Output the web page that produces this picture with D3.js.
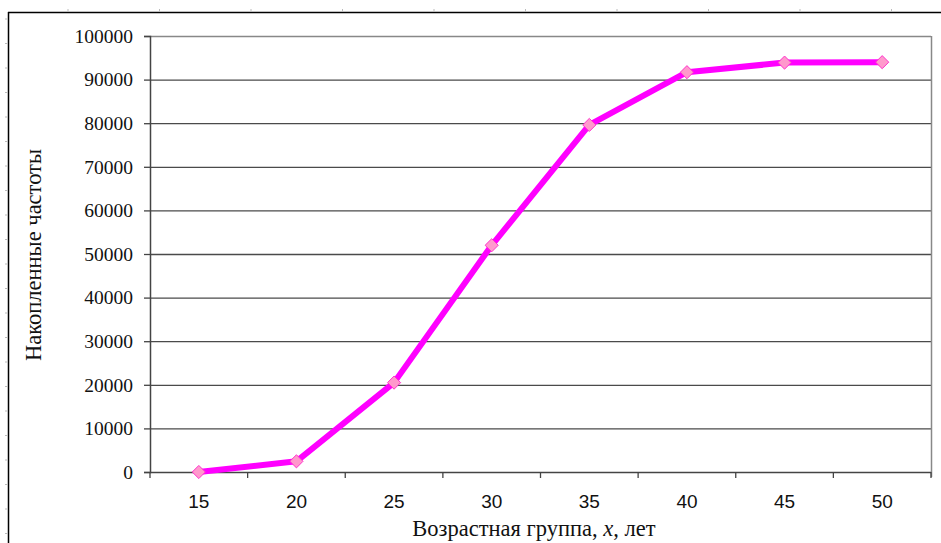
<!DOCTYPE html>
<html><head><meta charset="utf-8">
<script src="https://cdn.jsdelivr.net/npm/d3@7/dist/d3.min.js"></script>
<style>html,body{margin:0;padding:0;background:#fff;}svg{display:block;}</style>
</head><body>
<script>
const categories = ["15","20","25","30","35","40","45","50"];
const values = [0, 2450, 20500, 52000, 79600, 91700, 93900, 94000];
const yTicks = [0,10000,20000,30000,40000,50000,60000,70000,80000,90000,100000];
const xTitle = ["Возрастная группа, ", "x", ", лет"];
const yTitle = "Накопленные частоты";

const W = 941, H = 543;
const m = {left:150, right:10, top:36, bottom:71};
const svg = d3.select("body").append("svg").attr("width",W).attr("height",H);

// page frame
svg.append("line").attr("x1",8).attr("x2",W).attr("y1",12.5).attr("y2",12.5).attr("stroke","#000").attr("stroke-width",1.5);
svg.append("line").attr("x1",8.5).attr("x2",8.5).attr("y1",12).attr("y2",H).attr("stroke","#000").attr("stroke-width",1.5);
for(let k=0;k<10;k++){const xx=68+91.5*k;svg.append("line").attr("x1",xx).attr("x2",xx).attr("y1",9).attr("y2",12).attr("stroke","#bbb");}
for(let k=0;k<22;k++){const yy=19+24.5*k;svg.append("line").attr("x1",5).attr("x2",8).attr("y1",yy).attr("y2",yy).attr("stroke","#bbb");}

const x = d3.scaleBand().domain(categories).range([m.left, W-m.right]).padding(0);
const y = d3.scaleLinear().domain([0,100000]).range([H-m.bottom, m.top]);

// gridlines
svg.append("g").selectAll("line").data(yTicks.filter(d=>d>0)).join("line")
  .attr("x1",m.left).attr("x2",W-m.right).attr("y1",d=>y(d)+0.5).attr("y2",d=>y(d)+0.5)
  .attr("stroke",d=>d===100000?"#888":"#4a4a4a").attr("stroke-width",1.3);
// right border
svg.append("line").attr("x1",W-m.right+0.5).attr("x2",W-m.right+0.5).attr("y1",m.top).attr("y2",H-m.bottom+5)
  .attr("stroke","#888").attr("stroke-width",1.5);

// y axis
const yAxis = d3.axisLeft(y).tickValues(yTicks).tickSize(6).tickPadding(11).tickFormat(d3.format("d"));
const gy = svg.append("g").attr("transform",`translate(${m.left},0)`).call(yAxis);
gy.select(".domain").attr("stroke","#444").attr("stroke-width",1.5);
gy.selectAll(".tick line").attr("stroke","#444").attr("stroke-width",1.3);
gy.selectAll(".tick text").attr("font-family","'Liberation Serif','Times New Roman',serif").attr("font-size",19.5).attr("fill","#111");

// x axis
const gx = svg.append("g").attr("transform",`translate(0,${H-m.bottom})`);
gx.append("line").attr("x1",m.left).attr("x2",W-m.right).attr("y1",0.5).attr("y2",0.5).attr("stroke","#444").attr("stroke-width",1.5);
const xAxis = d3.axisBottom(x).tickSize(0).tickPadding(23);
const gxl = gx.append("g").call(xAxis);
gxl.select(".domain").remove();
gxl.selectAll(".tick text").attr("font-family","'Liberation Sans',Arial,sans-serif").attr("font-size",19).attr("fill","#111");
gx.selectAll(".xt").data(categories.concat(["end"])).join("line").attr("class","xt")
  .attr("x1",d=>d==="end"?W-m.right:x(d)).attr("x2",d=>d==="end"?W-m.right:x(d))
  .attr("y1",0).attr("y2",6).attr("stroke","#444").attr("stroke-width",1.3);

// line
const line = d3.line().x((d,i)=>x(categories[i])+x.bandwidth()/2).y(d=>y(d));
svg.append("path").datum(values).attr("d",line).attr("fill","none").attr("stroke","#ff00ff").attr("stroke-width",6).attr("stroke-linejoin","round");
svg.append("g").selectAll("path").data(values).join("path")
  .attr("d",d3.symbol().type(d3.symbolDiamond2).size(110))
  .attr("transform",(d,i)=>`translate(${x(categories[i])+x.bandwidth()/2},${y(d)})`)
  .attr("fill","#ff99cc").attr("stroke","#ff33cc").attr("stroke-width",1);

// titles
const xt = svg.append("text").attr("x",534).attr("y",536).attr("text-anchor","middle")
  .attr("font-family","'Liberation Serif','Times New Roman',serif").attr("font-size",22.5).attr("fill","#111");
xt.append("tspan").text(xTitle[0]);
xt.append("tspan").attr("font-style","italic").text(xTitle[1]);
xt.append("tspan").text(xTitle[2]);
svg.append("text").attr("transform","translate(41,255) rotate(-90)").attr("text-anchor","middle")
  .attr("font-family","'Liberation Serif','Times New Roman',serif").attr("font-size",22.5).attr("fill","#111").text(yTitle);
</script>
</body></html>
